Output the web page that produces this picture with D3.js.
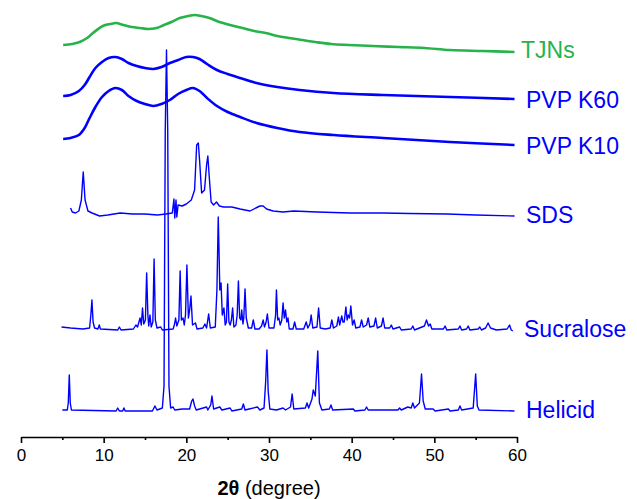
<!DOCTYPE html>
<html>
<head>
<meta charset="utf-8">
<script src="https://cdn.jsdelivr.net/npm/d3@7"></script>
<style>
  html, body { margin: 0; padding: 0; background: #fff; }
  svg { display: block; font-family: "Liberation Sans", Arial, sans-serif; }
</style>
</head>
<body>
<svg id="chart" width="637" height="499"></svg>
<script>
// Powder XRD patterns, stacked with a vertical offset per sample.
// Each series: [2θ (degree), intensity above its own baseline].

const sampleNames = ["Helicid", "Sucralose", "SDS", "PVP K10", "PVP K60", "TJNs"];
const sampleOffsets = [26, 107, 224, 292, 337, 385];
const sampleColors = ["#0000ff", "#0000ff", "#0000ff", "#0000ff", "#0000ff", "#27b34b"];

const helicid = [
  [5.0,1],[5.6,1],[5.72,8],[5.84,36],[5.96,8],[6.1,1],[11.5,0],[11.7,3],[11.9,0],
  [12.3,0],[12.45,3],[12.6,0],[15.9,0],[16.2,5],[16.45,1],[17.1,3],[17.3,25],
  [17.45,280],[17.6,361],[17.75,280],[17.9,25],[18.1,3],[18.4,4],[18.6,1],[19.5,2],
  [20.4,2],[20.65,10],[20.8,12],[21.0,5],[21.2,1],[22.45,4],[22.6,1],[22.95,6],
  [23.1,15],[23.3,2],[24.05,4],[24.3,1],[25.3,3],[25.5,0],[26.7,2],[26.9,7],[27.1,1],
  [27.6,2],[28.6,4],[28.9,1],[29.4,3],[29.6,30],[29.75,61],[29.9,20],[30.1,2],
  [30.9,1],[31.7,3],[32.0,1],[32.6,4],[32.8,17],[33.0,2],[34.4,3],[34.6,8],[34.8,3],
  [35.2,12],[35.35,21],[35.6,15],[35.9,60],[36.1,8],[36.4,1],[37.3,2],[37.5,6],
  [37.7,1],[40.2,2],[40.4,0],[41.6,1],[41.8,4],[42.0,1],[45.6,1],[45.8,3],[46.0,1],
  [46.8,4],[47.2,3],[47.4,8],[47.6,3],[48.2,8],[48.45,37],[48.65,10],[48.9,2],
  [49.85,2],[50.1,0],[51.7,2],[51.9,0],[52.9,1],[53.1,5],[53.3,1],[54.7,3],
  [54.85,20],[55.0,37],[55.2,5],[55.4,1],[59.7,0]
];

const sucralose = [
  [4.9,3],[6.0,2],[7.5,1],[8.3,2],[8.45,15],[8.58,30],[8.72,8],[8.9,2],[9.3,1],
  [9.47,5],[9.6,1],[11.7,0],[11.9,3],[12.1,0],[13.6,1],[13.9,5],[14.1,3],[14.4,12],
  [14.55,5],[14.7,22],[14.85,6],[15.05,10],[15.2,57],[15.35,15],[15.45,4],[15.6,15],
  [15.75,3],[15.95,8],[16.1,71],[16.25,10],[16.45,2],[16.9,3],[17.1,0],[18.4,1],
  [18.55,5],[18.7,12],[18.85,4],[19.1,10],[19.25,59],[19.4,10],[19.6,12],[19.75,5],
  [19.9,15],[20.07,65],[20.25,12],[20.4,20],[20.56,34],[20.75,5],[21.1,7],[21.3,1],
  [22.0,2],[22.25,6],[22.45,2],[22.7,16],[22.9,2],[23.5,3],[23.7,40],[23.86,113],
  [23.95,81],[24.05,40],[24.2,47],[24.35,15],[24.55,22],[24.7,5],[24.85,8],[25.0,46],
  [25.15,8],[25.3,5],[25.45,10],[25.6,22],[25.75,3],[26.0,5],[26.15,15],[26.3,49],
  [26.45,12],[26.6,10],[26.7,20],[26.85,6],[26.95,12],[27.1,41],[27.25,12],[27.5,2],
  [27.9,2],[28.1,10],[28.3,1],[28.8,1],[29.1,4],[29.3,10],[29.45,3],[29.65,8],
  [29.8,16],[30.0,2],[30.6,2],[30.8,15],[30.9,40],[31.05,10],[31.2,12],[31.35,5],
  [31.55,10],[31.7,27],[31.85,12],[32.0,20],[32.15,8],[32.3,12],[32.45,1],[32.9,1],
  [33.1,8],[33.3,1],[34.2,1],[34.5,8],[34.7,2],[34.95,6],[35.1,15],[35.3,2],[35.8,3],
  [36.0,22],[36.2,2],[36.8,1],[37.4,2],[37.6,10],[37.8,2],[38.2,4],[38.4,13],
  [38.55,5],[38.8,14],[38.95,8],[39.1,8],[39.3,23],[39.45,10],[39.6,15],[39.75,12],
  [39.9,24],[40.1,5],[40.3,10],[40.5,2],[41.0,3],[41.2,10],[41.4,3],[41.8,5],
  [42.0,12],[42.2,3],[42.7,4],[42.9,12],[43.1,2],[43.6,4],[43.8,12],[44.0,2],
  [44.6,2],[44.8,5],[45.0,1],[45.8,3],[46.0,0],[47.2,1],[47.4,4],[47.6,0],[48.8,4],
  [49.05,10],[49.3,4],[49.5,6],[49.7,1],[51.1,1],[51.3,4],[51.5,0],[52.9,1],[53.1,4],
  [53.3,0],[53.9,1],[54.1,4],[54.3,0],[55.3,1],[55.5,3],[55.7,0],[56.2,2],[56.5,7],
  [56.8,2],[57.5,0],[58.8,1],[59.1,5],[59.3,0],[59.5,-1]
];

const sds = [
  [6.0,5],[6.2,1],[6.6,0],[7.0,2],[7.3,13],[7.53,41],[7.75,13],[8.1,2],[8.6,0],
  [9.5,-3],[10.5,-2],[12.0,0],[13.5,-1],[15.0,-1],[16.5,-2],[17.5,-1],[18.3,0],
  [18.5,14],[18.6,-5],[18.75,13],[18.85,-4],[19.0,8],[19.5,7],[20.0,9],[20.6,13],
  [21.0,23],[21.25,68],[21.45,70],[21.6,53],[21.85,20],[22.2,23],[22.45,48],
  [22.6,57],[22.8,33],[23.0,11],[23.3,8],[23.65,11],[24.0,7],[24.5,6],[25.5,6],
  [26.5,4],[27.7,2],[28.4,5],[28.9,7],[29.3,7],[29.7,4],[30.5,2],[31.7,1],[33.0,2],
  [35.8,1],[39.8,0],[43.8,0],[47.0,-0.5],[51.5,-1],[55.0,-2],[59.7,-3]
];

const pvpK10 = [
  [5.1,6],[6.0,7],[7.0,10],[7.7,17],[8.3,27],[9.0,38],[9.8,48],[10.6,54],[11.4,57],
  [12.2,55],[13.0,49],[14.0,44],[15.0,41],[16.0,39],[17.0,41],[18.0,45],[19.0,51],
  [20.0,55],[20.8,57],[21.6,54],[22.5,47],[23.7,39],[25.0,33],[26.5,28],[28.5,22],
  [31.0,17],[33.7,13],[37.8,10],[43.8,7],[51.9,3],[59.7,0]
];

const pvpK60 = [
  [5.1,4],[6.0,5],[7.0,9],[7.7,15],[8.3,23],[9.0,32],[9.8,38],[10.6,42],[11.4,43],
  [12.2,41],[13.0,37],[14.0,34],[15.0,32],[16.0,31],[17.0,33],[18.0,37],[19.0,40],
  [20.0,43],[20.8,43],[21.6,41],[22.5,36],[23.7,30],[25.0,26],[26.5,22],[28.5,17],
  [31.0,13],[33.7,10],[37.8,7],[43.8,5],[51.9,3],[59.7,1]
];

const tjns = [
  [5.1,7],[6.2,8],[7.1,10],[8.0,14],[8.7,19],[9.9,26],[10.8,28],[11.5,29],[12.4,27],
  [13.4,25],[14.4,24],[15.4,23],[16.4,24],[17.3,27],[18.2,30],[19.2,34],[20.2,36],
  [21.0,37],[21.8,36],[22.8,34],[24.0,30],[25.3,27],[26.8,24],[28.2,21],[29.6,19],
  [31.0,16],[32.4,14],[34.0,12],[35.6,10],[37.5,8],[39.6,7],[42.5,6],[45.7,5],
  [48.8,4],[51.9,2],[55.8,1],[59.7,0]
];

const seriesData = [helicid, sucralose, sds, pvpK10, pvpK60, tjns];
const amorphous = [false, false, false, true, true, true];

const xMajorTicks = [0, 10, 20, 30, 40, 50, 60];
const xMinorTicks = [5, 15, 25, 35, 45, 55];

const svg = d3.select("#chart");

const x = d3.scaleLinear().domain([0, 60]).range([21, 517]);
const y = d3.scaleLinear().domain([0, 420]).range([437, 17]);

const traces = svg.append("g");

seriesData.forEach((data, i) => {
  const off = sampleOffsets[i];
  const line = d3.line()
    .x(d => x(d[0]))
    .y(d => y(d[1] + off))
    .curve(amorphous[i] ? d3.curveCatmullRom.alpha(0.5) : d3.curveLinear);
  traces.append("path")
    .datum(data)
    .attr("fill", "none")
    .attr("stroke", sampleColors[i])
    .attr("stroke-width", amorphous[i] ? 2.6 : 1.4)
    .attr("stroke-linejoin", "round")
    .attr("d", line);
});

// Sample labels at the right end of each pattern
const labelX = [526, 524, 526, 526, 526, 521];
const labelBaseline = [418, 337, 223, 154, 108, 58];
sampleNames.forEach((name, i) => {
  svg.append("text")
    .attr("x", labelX[i])
    .attr("y", labelBaseline[i])
    .attr("font-size", 23)
    .attr("fill", sampleColors[i])
    .text(name);
});

// Bottom axis
const axisY = 437;
const axisMajor = d3.axisBottom(x)
  .tickValues(xMajorTicks)
  .tickSize(6)
  .tickSizeOuter(0)
  .tickPadding(6)
  .tickFormat(d3.format("d"));
const gAxis = svg.append("g").attr("transform", `translate(0,${axisY})`).call(axisMajor);
gAxis.select(".domain").attr("stroke", "#000").attr("stroke-width", 1.6);
gAxis.selectAll(".tick line").attr("stroke", "#000").attr("stroke-width", 1.6);
gAxis.selectAll(".tick text")
  .attr("font-size", 17)
  .attr("fill", "#000")
  .attr("font-family", "\"Liberation Sans\", Arial, sans-serif");

const axisMinor = d3.axisBottom(x)
  .tickValues(xMinorTicks)
  .tickSize(3)
  .tickSizeOuter(0)
  .tickFormat("");
const gMinor = svg.append("g").attr("transform", `translate(0,${axisY})`).call(axisMinor);
gMinor.select(".domain").remove();
gMinor.selectAll(".tick line").attr("stroke", "#000").attr("stroke-width", 1.6);

// Axis title
const title = svg.append("text")
  .attr("x", x(30))
  .attr("y", 495)
  .attr("text-anchor", "middle")
  .attr("font-size", 20)
  .attr("fill", "#000");
title.append("tspan").attr("font-weight", "bold").text("2θ");
title.append("tspan").text(" (degree)");
</script>
</body>
</html>
